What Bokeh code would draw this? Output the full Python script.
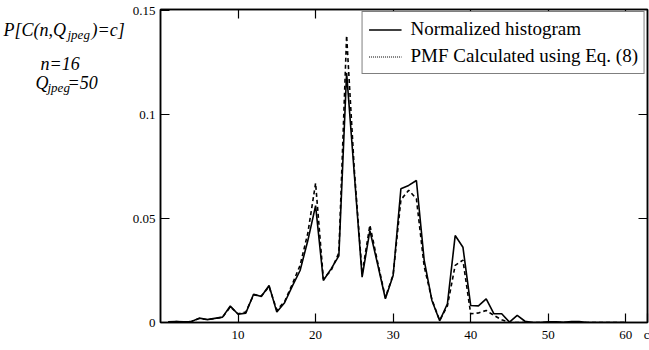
from bokeh.plotting import figure
from bokeh.layouts import row
from bokeh.models import Range1d, FixedTicker, LinearAxis, Legend, LegendItem, ColumnDataSource
from bokeh.core.properties import value
from bokeh.embed import file_html
from bokeh.resources import INLINE

# ---- data ----
c_values = list(range(1, 61))
hist_values = [0.0003, 0.0005, 0.0003, 0.0005, 0.0021, 0.0014, 0.0020, 0.0026, 0.0079, 0.0040,
               0.0045, 0.0136, 0.0125, 0.0178, 0.0050, 0.0095, 0.0175, 0.0250, 0.0394, 0.0562,
               0.0202, 0.0258, 0.0320, 0.1200, 0.0710, 0.0218, 0.0442, 0.0280, 0.0114, 0.0226,
               0.0643, 0.0659, 0.0683, 0.0300, 0.0106, 0.0008, 0.0090, 0.0418, 0.0362, 0.0082,
               0.0080, 0.0114, 0.0042, 0.0042, 0.0002, 0.0034, 0.0006, 0.0000, 0.0000, 0.0003,
               0.0003, 0.0001, 0.0004, 0.0004, 0.0000, 0.0000, 0.0000, 0.0000, 0.0000, 0.0000]
pmf_values = [0.0002, 0.0004, 0.0003, 0.0005, 0.0019, 0.0014, 0.0019, 0.0025, 0.0075, 0.0042,
              0.0050, 0.0133, 0.0128, 0.0172, 0.0060, 0.0100, 0.0185, 0.0275, 0.0430, 0.0670,
              0.0210, 0.0250, 0.0335, 0.1380, 0.0730, 0.0235, 0.0468, 0.0290, 0.0120, 0.0230,
              0.0590, 0.0636, 0.0595, 0.0270, 0.0110, 0.0010, 0.0080, 0.0275, 0.0300, 0.0042,
              0.0046, 0.0058, 0.0034, 0.0013, 0.0000, 0.0000, 0.0000, 0.0000, 0.0000, 0.0000,
              0.0000, 0.0000, 0.0000, 0.0000, 0.0000, 0.0000, 0.0000, 0.0000, 0.0000, 0.0000]
x_ticks = [10, 20, 30, 40, 50, 60]
x_tick_labels = ["10", "20", "30", "40", "50", "60"]
x_axis_name = "c"
y_ticks = [0, 0.05, 0.1, 0.15]
y_tick_labels = ["0", "0.05", "0.1", "0.15"]
series_names = ["Normalized histogram", "PMF Calculated using Eq. (8)"]

SERIF = "Liberation Serif"
X_END = 62.8

# ---------- left panel with the y-axis caption ----------
LW = 126
cap = figure(width=LW, height=350, output_backend="svg", toolbar_location=None,
             x_range=Range1d(0, LW), y_range=Range1d(350, 0),
             x_axis_location=None, y_axis_location=None,
             min_border=0, min_border_left=0, min_border_right=0,
             min_border_top=0, min_border_bottom=0)
cap.outline_line_color = None
cap.xgrid.visible = False
cap.ygrid.visible = False

def cap_text(x, y, txt, size):
    cap.text(x=[x], y=[y], text=[txt], text_font=value(SERIF), text_font_size=value(size),
             text_font_style="italic", text_color="black",
             text_baseline="alphabetic", text_align="left")

cap_text(3, 23, "P[C(n,Q", "18px")
cap_text(67, 28, "jpeg", "13px")
cap_text(91, 23, ")=c]", "18px")
cap_text(40, 61, "n=16", "18px")
cap_text(35, 82, "Q", "18px")
cap_text(47, 87, "jpeg", "13px")
cap_text(67, 82, "=50", "18px")

# ---------- main plot ----------
p = figure(width=649 - LW, height=350, output_backend="svg", toolbar_location=None,
           x_range=Range1d(0, X_END), y_range=Range1d(0, 0.1505),
           min_border_left=160 - LW, min_border_right=2, min_border_top=9, min_border_bottom=28,
           background_fill_color="white", border_fill_color="white")
p.xgrid.visible = False
p.ygrid.visible = False
p.outline_line_color = "black"
p.outline_line_width = 1.5

def style_axis(ax, ticks, show_labels):
    ax.ticker = FixedTicker(ticks=ticks)
    ax.axis_line_color = "black"
    ax.axis_line_width = 1.5
    ax.major_tick_line_color = "black"
    ax.major_tick_line_width = 1.2
    ax.major_tick_in = 9
    ax.major_tick_out = 0
    ax.minor_tick_line_color = None
    ax.major_label_text_font = SERIF
    ax.major_label_text_font_size = "13px"
    ax.major_label_text_color = "black"
    if not show_labels:
        ax.major_label_text_font_size = "0px"
        ax.major_label_standoff = 0

# bottom axis: the axis name "c" sits at the right end, next to "60"
xa = p.xaxis[0]
style_axis(xa, x_ticks + [X_END], True)
xa.major_label_standoff = 4
overrides = {t: s for t, s in zip(x_ticks, x_tick_labels)}
overrides[X_END] = x_axis_name
xa.major_label_overrides = overrides

ya = p.yaxis[0]
style_axis(ya, y_ticks, True)
ya.major_label_standoff = 5
ya.major_label_overrides = {t: s for t, s in zip(y_ticks, y_tick_labels)}

top_ax = LinearAxis()
style_axis(top_ax, x_ticks, False)
p.add_layout(top_ax, "above")
right_ax = LinearAxis()
style_axis(right_ax, [0.05, 0.1], False)
p.add_layout(right_ax, "right")

src = ColumnDataSource(dict(c=c_values, h=hist_values, f=pmf_values))
r1 = p.line("c", "h", source=src, line_color="black", line_width=1.6)
r2 = p.line("c", "f", source=src, line_color="black", line_width=1.6, line_dash="4 3")
# the legend sample for the PMF series is drawn dotted, as in the original
nan = float("nan")
r2_leg = p.line(x=[nan, nan], y=[nan, nan], line_color="black", line_width=1, line_dash="1 1")

legend = Legend(items=[LegendItem(label=series_names[0], renderers=[r1]),
                       LegendItem(label=series_names[1], renderers=[r2_leg])],
                location="top_right")
legend.label_text_font = SERIF
legend.label_text_font_size = "19px"
legend.label_text_color = "black"
legend.border_line_color = "black"
legend.border_line_width = 1.2
legend.background_fill_alpha = 1
legend.padding = 6
legend.spacing = 5
legend.margin = 2
legend.glyph_width = 33
legend.glyph_height = 21
legend.label_height = 21
legend.label_standoff = 9
p.add_layout(legend)

layout = row(cap, p, spacing=0)
open("out.html", "w").write(file_html(layout, INLINE))
